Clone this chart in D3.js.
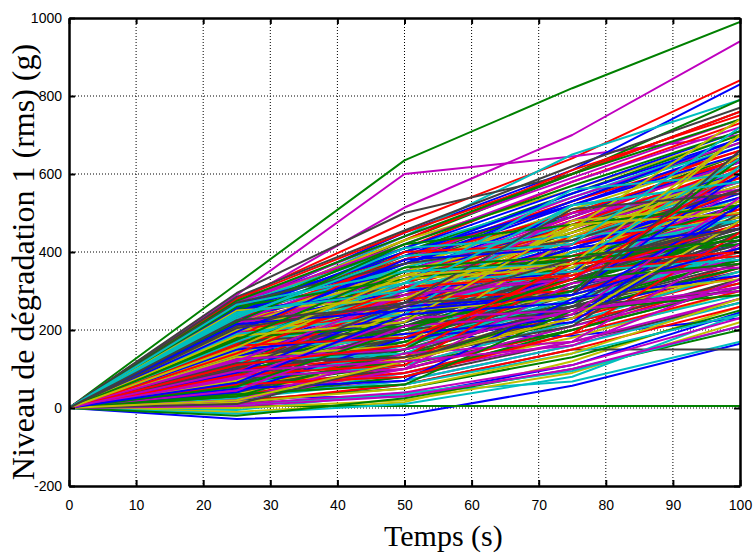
<!DOCTYPE html>
<html><head><meta charset="utf-8">
<script src="https://cdn.jsdelivr.net/npm/d3@7"></script>
<style>body{margin:0;background:#fff}svg{display:block}</style>
</head><body><svg id="c" width="756" height="554"></svg>
<script>
const times = [0, 25, 50, 75, 100];
const xTicks = [0,10,20,30,40,50,60,70,80,90,100];
const yTicks = [-200,0,200,400,600,800,1000];
const xLabel = "Temps (s)";
const yLabel = "Niveau de dégradation 1 (rms) (g)";
const palette = ["#0000ff","#008000","#ff0000","#00bfbf","#bf00bf","#bfbf00","#404040"];
const outlierSeries = [
[0,-28,-18,57,165],[0,318,635,820,990],[0,280,475,640,840],[0,-5,40,68,170],
[0,290,600,645,700],[0,-10,15,120,260],[0,10,60,150,150],[0,260,450,610,830],
[0,5,5,5,5],[0,275,410,580,730],[0,250,440,650,790],[0,270,514,700,940],
[0,0,20,90,220],[0,295,500,600,760],[0,178,180,185,230],[0,240,430,600,790],
[0,280,450,600,760],[0,-15,10,80,240],[0,270,440,590,740],[0,60,120,350,620],
[0,285,455,620,770],[0,25,30,110,245],[0,-20,25,100,200],[0,260,430,610,750],
[0,8,35,95,210],[0,200,260,300,380],[0,100,150,420,700],[0,230,280,330,420]
];
const bulkSeries = [
[0,120,210,330,440],[0,200,340,470,600],[0,60,120,230,360],[0,250,400,540,690],
[0,30,70,160,280],[0,170,300,390,520],[0,90,190,310,410],[0,140,230,380,500],
[0,220,370,500,640],[0,40,100,200,330],[0,180,260,420,560],[0,110,170,260,380],
[0,260,430,560,700],[0,70,150,280,390],[0,150,280,440,580],[0,20,50,130,250],
[0,190,320,450,610],[0,100,220,340,470],[0,230,350,480,590],[0,50,130,250,350],
[0,160,250,360,480],[0,130,270,400,530],[0,80,140,220,320],[0,210,390,520,660],
[0,240,360,510,620],[0,10,40,110,230],[0,120,240,370,510],[0,175,290,410,540],
[0,65,160,300,430],[0,95,180,290,400],[0,205,330,490,650],[0,145,210,330,450],
[0,270,420,580,720],[0,35,90,180,300],[0,115,200,350,470],[0,185,350,470,580],
[0,55,110,200,310],[0,225,310,450,570],[0,135,260,390,540],[0,85,200,320,440],
[0,195,300,430,550],[0,25,80,170,270],[0,155,240,410,530],[0,245,380,530,680],
[0,75,130,240,370],[0,105,230,360,490],[0,215,340,460,610],[0,165,280,380,500],
[0,45,120,240,340],[0,125,190,310,420],[0,235,400,550,700],[0,15,60,150,260],
[0,145,300,430,570],[0,95,160,270,390],[0,200,280,420,530],[0,60,170,290,410],
[0,255,370,490,630],[0,130,220,350,460],[0,175,330,460,620],[0,40,60,140,240],
[0,110,250,380,500],[0,220,360,500,620],[0,80,170,260,380],[0,190,270,400,520],
[0,150,320,450,600],[0,30,110,220,320],[0,265,410,540,670],[0,120,180,300,430],
[0,70,190,320,450],[0,210,320,470,590],[0,100,150,250,350],[0,240,390,490,650],
[0,160,290,420,560],[0,20,90,190,290],[0,180,250,370,490],[0,140,270,370,480],
[0,50,100,210,330],[0,230,330,480,600],[0,90,210,330,460],[0,170,340,480,640],
[0,115,170,280,400],[0,5,30,100,210],[0,200,360,510,650],[0,135,240,340,450],
[0,250,350,500,630],[0,65,140,260,380],[0,190,310,440,560],[0,105,200,300,420],
[0,220,380,540,680],[0,35,130,230,350],[0,155,230,350,470],[0,125,260,410,550],
[0,275,440,600,740],[0,80,120,230,340],[0,185,290,460,600],[0,45,90,170,280],
[0,165,310,400,530],[0,95,230,350,480],[0,215,300,420,540],[0,145,200,320,440],
[0,260,390,530,660],[0,55,150,270,400],[0,205,350,490,630],[0,130,190,290,410],
[0,75,180,300,420],[0,235,370,520,670],[0,110,210,320,450],[0,175,260,400,510],
[0,25,70,160,270],[0,150,270,420,570],[0,195,340,450,570],[0,85,160,280,410],
[0,245,410,560,710],[0,120,230,330,440],[0,60,90,190,300],[0,180,300,430,580],
[0,140,250,390,520],[0,210,330,440,580],[0,40,140,260,360],[0,160,220,340,460],
[0,100,240,370,520],[0,230,380,500,640],[0,70,110,220,350],[0,190,350,480,610],
[0,15,50,140,280],[0,125,210,360,490],[0,255,400,520,650],[0,90,170,270,380],
[0,165,290,440,590],[0,50,160,280,390],[0,220,310,460,580],[0,135,280,400,530],
[0,105,180,310,430],[0,200,370,530,690],[0,30,80,200,310],[0,170,240,360,470],
[0,240,360,470,610],[0,80,200,340,460],[0,145,260,380,490],[0,115,220,350,480],
[0,265,390,550,690],[0,65,120,250,360],[0,185,320,470,620],[0,155,250,360,500],
[0,20,100,210,310],[0,210,350,460,600],[0,95,150,260,370],[0,130,270,410,560],
[0,250,420,570,710],[0,175,280,390,510]
];
const crossingSeries = [
[0,150,180,400,480],[0,90,300,330,560],[0,200,230,480,520],[0,60,210,260,500],
[0,250,300,350,600],[0,30,150,380,420],[0,180,400,420,500],[0,120,140,300,620],
[0,220,260,500,560],[0,70,250,280,330],[0,170,200,250,450],[0,40,180,220,480],
[0,260,330,380,520],[0,110,280,300,400],[0,190,240,520,580],[0,80,100,320,370],
[0,140,330,360,650],[0,210,290,330,460],[0,50,70,280,340],[0,160,350,380,420],
[0,100,130,380,560],[0,230,410,440,480],[0,20,140,170,420],[0,130,160,440,600],
[0,270,370,430,560],[0,90,260,290,600],[0,180,210,300,640],[0,60,80,190,450],
[0,240,320,560,600],[0,120,290,330,360],[0,200,310,340,700],[0,10,120,260,300],
[0,150,190,230,520],[0,220,420,470,520],[0,85,110,350,390],[0,170,320,350,380],
[0,45,210,240,540],[0,250,280,460,740],[0,115,130,210,480],[0,195,380,410,460],
[0,35,60,250,290],[0,140,310,340,470],[0,265,350,370,640],[0,75,230,250,310],
[0,185,220,470,500],[0,100,270,290,660],[0,215,250,290,410],[0,55,200,330,370],
[0,160,180,330,610],[0,235,390,420,720],[0,125,150,250,300],[0,20,120,230,480],
[0,205,270,510,550],[0,65,240,270,520],[0,175,360,390,430],[0,110,160,370,400],
[0,245,300,520,580],[0,95,120,160,330],[0,155,340,370,700],[0,225,260,380,460]
];
const allSeries = outlierSeries.concat(bulkSeries, crossingSeries);

const svg = d3.select("#c");
const m = {l:69, r:740, t:18, b:486};
const x = d3.scaleLinear().domain([0,100]).range([m.l, m.r]);
const y = d3.scaleLinear().domain([-200,1000]).range([m.b, m.t]);

const g = svg.append("g");
g.selectAll(".gx").data(xTicks.slice(1,-1)).join("line")
  .attr("x1",d=>x(d)).attr("x2",d=>x(d)).attr("y1",m.t).attr("y2",m.b)
  .attr("stroke","#000").attr("stroke-width",1).attr("stroke-dasharray","1,2");
g.selectAll(".gy").data(yTicks.slice(1,-1)).join("line")
  .attr("y1",d=>y(d)).attr("y2",d=>y(d)).attr("x1",m.l).attr("x2",m.r)
  .attr("stroke","#000").attr("stroke-width",1).attr("stroke-dasharray","1,2");

svg.append("clipPath").attr("id","clip").append("rect")
  .attr("x",m.l).attr("y",m.t).attr("width",m.r-m.l).attr("height",m.b-m.t);

const line = d3.line().x((d,i)=>x(times[i])).y(d=>y(d));
svg.append("g").attr("clip-path","url(#clip)")
  .selectAll("path").data(allSeries).join("path")
  .attr("d",line).attr("fill","none")
  .attr("stroke",(d,i)=>palette[i%palette.length])
  .attr("stroke-width",2).attr("stroke-linejoin","round");

const tl = -6;
const fmt = d => String(d);
const axB = d3.axisBottom(x).tickValues(xTicks).tickSize(tl).tickPadding(14).tickSizeOuter(0).tickFormat(fmt);
const axT = d3.axisTop(x).tickValues(xTicks).tickSize(tl).tickFormat("").tickSizeOuter(0);
const axL = d3.axisLeft(y).tickValues(yTicks).tickSize(tl).tickPadding(7).tickSizeOuter(0).tickFormat(fmt);
const axR = d3.axisRight(y).tickValues(yTicks).tickSize(tl).tickFormat("").tickSizeOuter(0);
const style = sel => { sel.selectAll("path,line").attr("stroke","#000").attr("stroke-width",2);
  sel.selectAll("text").attr("font-family","'Liberation Sans', Arial, sans-serif").attr("font-size",14).attr("fill","#000"); };
svg.append("g").attr("transform",`translate(0,${m.b})`).call(axB).call(style);
svg.append("g").attr("transform",`translate(0,${m.t})`).call(axT).call(style);
svg.append("g").attr("transform",`translate(${m.l},0)`).call(axL).call(style);
svg.append("g").attr("transform",`translate(${m.r},0)`).call(axR).call(style);
svg.selectAll(".domain").attr("stroke-width",2.5);

svg.append("text").text(xLabel).attr("x",384).attr("y",546)
  .attr("text-anchor","start").attr("font-family","'Liberation Serif', 'Times New Roman', serif")
  .attr("font-size",30).attr("fill","#000");
svg.append("text").text(yLabel).attr("transform","translate(34,262) rotate(-90)")
  .attr("text-anchor","middle").attr("font-family","'Liberation Serif', 'Times New Roman', serif")
  .attr("font-size",32).attr("fill","#000");
</script></body></html>
